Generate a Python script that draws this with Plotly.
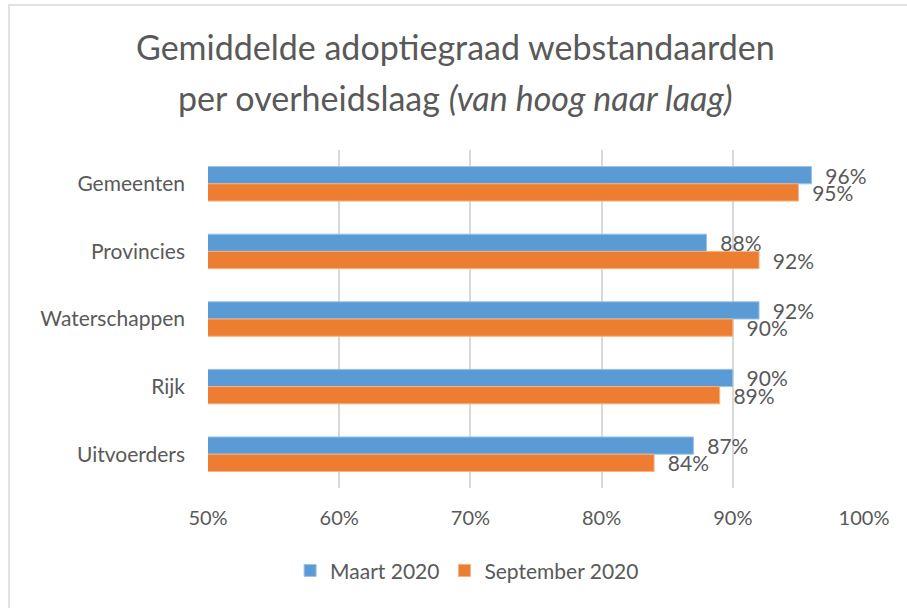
import plotly.graph_objects as go

# Data
categories = ["Gemeenten", "Provincies", "Waterschappen", "Rijk", "Uitvoerders"]
maart_2020 = [96, 88, 92, 90, 87]
september_2020 = [95, 92, 90, 89, 84]
x_ticks = [50, 60, 70, 80, 90, 100]

BLUE = "#5B9BD5"
ORANGE = "#ED7D31"
TEXT = "#595959"
FONT = "Lato"

fig = go.Figure()
for name, values, color, edge in [
    ("Maart 2020", maart_2020, BLUE, "#9DC3E6"),
    ("September 2020", september_2020, ORANGE, "#F4B183"),
]:
    fig.add_trace(
        go.Bar(
            y=categories,
            x=values,
            orientation="h",
            name=name,
            base=0,
            marker=dict(color=color, line=dict(color=edge, width=1)),
            text=["  %d%%" % v for v in values],
            textposition="outside",
            constraintext="none",
            cliponaxis=False,
            textfont=dict(family=FONT, size=21, color=TEXT),
        )
    )

fig.update_layout(
    width=907,
    height=608,
    margin=dict(l=208, r=43, t=150, b=120),
    paper_bgcolor="white",
    plot_bgcolor="white",
    barmode="group",
    bargap=0.49,
    bargroupgap=0,
    font=dict(family=FONT, color=TEXT, size=19),
    showlegend=True,
    legend=dict(
        orientation="h",
        x=0.395,
        xanchor="center",
        y=-0.245,
        yanchor="middle",
        font=dict(family=FONT, size=21, color=TEXT),
        itemwidth=30,
    ),
    xaxis=dict(
        range=[50, 100],
        tickvals=x_ticks,
        ticktext=["%d%%" % t for t in x_ticks],
        showgrid=True,
        gridcolor="#D9D9D9",
        gridwidth=1.5,
        zeroline=False,
        showline=False,
        ticks="",
        ticklabelstandoff=16,
        tickfont=dict(size=20, color=TEXT),
    ),
    yaxis=dict(
        autorange="reversed",
        showgrid=False,
        showline=False,
        ticks="",
        ticklabelstandoff=22,
        tickfont=dict(size=21, color=TEXT),
    ),
    annotations=[
        dict(
            text="Gemiddelde adoptiegraad webstandaarden",
            xref="paper", yref="paper",
            x=(455 - 208) / 656, y=1 + (150 - 47) / 338,
            xanchor="center", yanchor="middle",
            showarrow=False,
            font=dict(family=FONT, size=34, color=TEXT),
        ),
        dict(
            text="per overheidslaag <i>(van hoog naar laag)</i>",
            xref="paper", yref="paper",
            x=(455 - 208) / 656, y=1 + (150 - 97) / 338,
            xanchor="center", yanchor="middle",
            showarrow=False,
            font=dict(family=FONT, size=34, color=TEXT),
        ),
    ],
    shapes=[
        dict(
            type="rect",
            xref="paper", yref="paper",
            x0=(9 - 208) / 656, x1=(920 - 208) / 656,
            y0=(488 - 620) / 338, y1=1 + (150 - 5) / 338,
            line=dict(color="#D9D9D9", width=1.5),
            layer="below",
        )
    ],
)

fig.write_html(
    "out.html",
    config={"displayModeBar": False},
    post_script="document.body.style.margin='0';",
)
